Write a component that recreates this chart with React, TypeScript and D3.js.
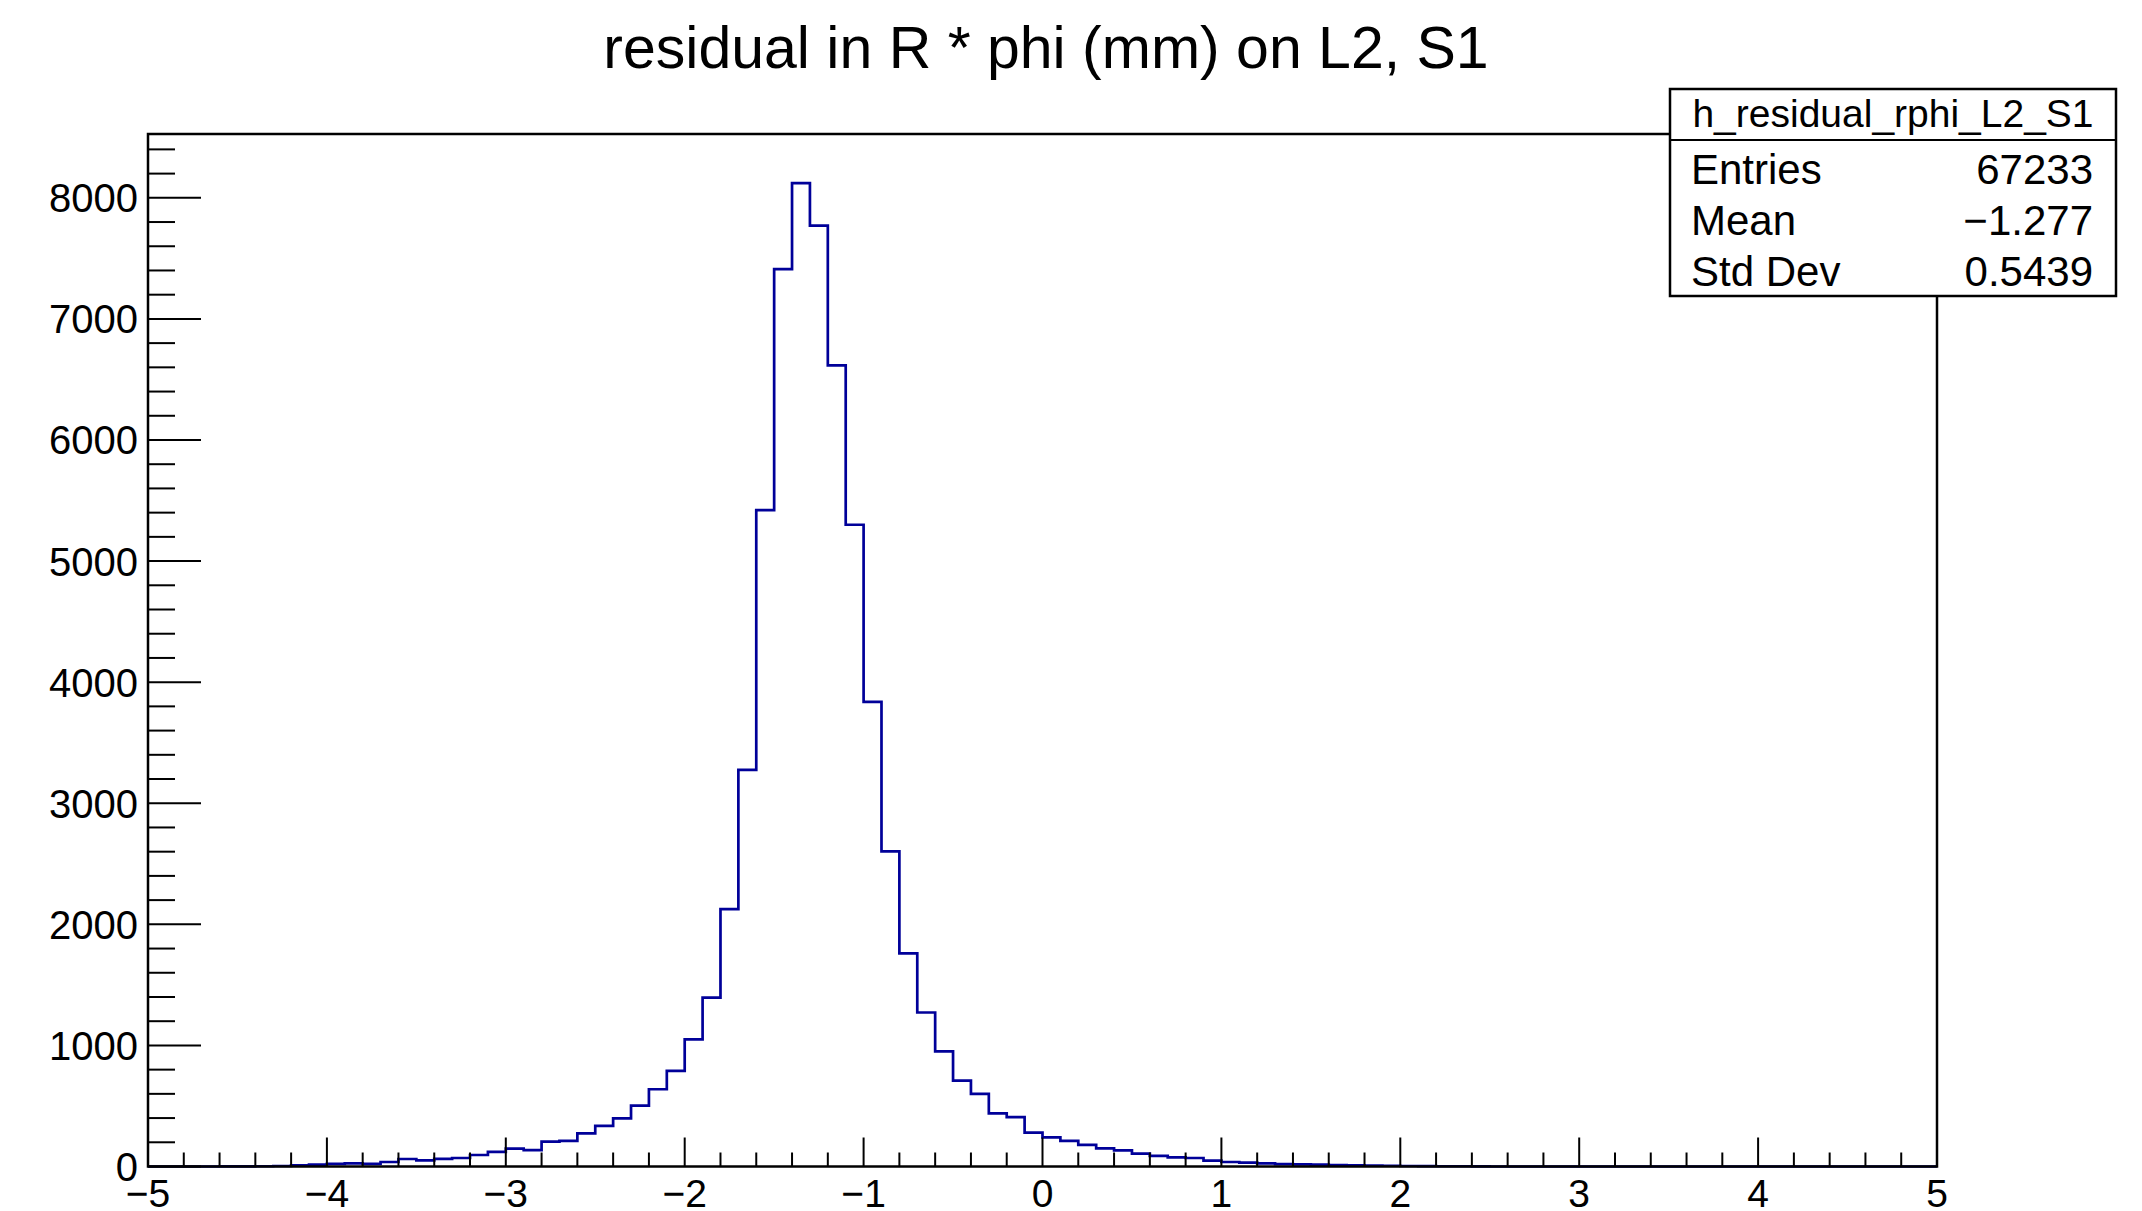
import React, { useEffect } from "react";
import * as d3 from "d3";

// ---- data ----
const binLow = -5;
const binHigh = 5;
const binCount = 100;
const counts: number[] = [
  0, 0, 0, 0, 1, 1, 2, 4, 10, 15,
  22, 25, 22, 37, 62, 50, 63, 70, 95, 120,
  147, 136, 205, 211, 274, 335, 398, 502, 638, 789,
  1050, 1395, 2126, 3275, 5421, 7411, 8121, 7771, 6617, 5300,
  3838, 2602, 1760, 1272, 950, 710, 600, 438, 408, 280,
  240, 212, 178, 150, 134, 106, 87, 76, 70, 48,
  37, 32, 26, 20, 18, 15, 12, 9, 8, 6,
  4, 3, 2, 2, 1, 0, 0, 0, 0, 0,
  0, 0, 0, 0, 0, 0, 0, 0, 0, 0,
  0, 0, 0, 0, 0, 0, 0, 0, 0, 0,
];
const xMajorTicks = [-5, -4, -3, -2, -1, 0, 1, 2, 3, 4, 5];
const yMajorTicks = [0, 1000, 2000, 3000, 4000, 5000, 6000, 7000, 8000];
const titleText = "residual in R * phi (mm) on L2, S1";
const statsTitle = "h_residual_rphi_L2_S1";
const statsLabels = ["Entries", "Mean", "Std Dev"];
const statsValues = ["67233", "\u22121.277", "0.5439"];

const W = 2142;
const H = 1211;
const FONT = "'Liberation Sans', Arial, Helvetica, sans-serif";

function fmt(v: number): string {
  return v < 0 ? "\u2212" + String(-v) : String(v);
}

export default function App() {
  useEffect(() => {
    document.body.style.margin = "0";
  }, []);

  const left = 148, right = 1937, top = 134, bottom = 1166.5;
  const yMax = d3.max(counts)! * 1.05;
  const x = d3.scaleLinear().domain([binLow, binHigh]).range([left, right]);
  const y = d3.scaleLinear().domain([0, yMax]).range([bottom, top]);
  const bw = (binHigh - binLow) / binCount;

  const pts: [number, number][] = [];
  counts.forEach((c, i) => {
    const e0 = binLow + i * bw;
    const e1 = binLow + (i + 1) * bw;
    pts.push([x(e0), y(c)]);
    pts.push([x(e1), y(c)]);
  });
  const histPath = d3.line()(pts) || "";

  const xMinor: number[] = d3.range(binLow, binHigh + 1e-9, 0.2).filter(
    (v) => Math.abs(v - Math.round(v)) > 1e-6
  );
  const yMinor: number[] = d3.range(0, yMax, 200).filter((v) => v % 1000 !== 0);

  const boxL = 1670, boxR = 2116, boxT = 89, boxB = 296, boxDiv = 140;

  return (
    <svg
      width={W}
      height={H}
      style={{ position: "absolute", left: 0, top: 0, background: "#fff" }}
      fontFamily={FONT}
    >
      <rect x={0} y={0} width={W} height={H} fill="#fff" />
      <text x={1046} y={68} fontSize={59} textAnchor="middle" fill="#000">
        {titleText}
      </text>

      {/* histogram */}
      <path d={histPath} fill="none" stroke="#000099" strokeWidth={2.7} />

      {/* frame */}
      <rect x={left} y={top} width={right - left} height={bottom - top} fill="none" stroke="#000" strokeWidth={2.5} />

      {/* y ticks */}
      {yMajorTicks.map((v) => (
        <g key={"ym" + v}>
          <line x1={left} x2={left + 53} y1={y(v)} y2={y(v)} stroke="#000" strokeWidth={2} />
          <text x={138} y={y(v) + 14.5} fontSize={40} textAnchor="end" fill="#000">
            {fmt(v)}
          </text>
        </g>
      ))}
      {yMinor.map((v) => (
        <line key={"yn" + v} x1={left} x2={left + 27} y1={y(v)} y2={y(v)} stroke="#000" strokeWidth={2} />
      ))}

      {/* x ticks */}
      {xMajorTicks.map((v) => (
        <g key={"xm" + v}>
          <line x1={x(v)} x2={x(v)} y1={bottom} y2={bottom - 29} stroke="#000" strokeWidth={2} />
          <text x={x(v)} y={1207} fontSize={39} textAnchor="middle" fill="#000">
            {fmt(v)}
          </text>
        </g>
      ))}
      {xMinor.map((v) => (
        <line key={"xn" + v.toFixed(2)} x1={x(v)} x2={x(v)} y1={bottom} y2={bottom - 14} stroke="#000" strokeWidth={2} />
      ))}

      {/* stats box */}
      <rect x={boxL} y={boxT} width={boxR - boxL} height={boxB - boxT} fill="#fff" stroke="#000" strokeWidth={2.5} />
      <line x1={boxL} x2={boxR} y1={boxDiv} y2={boxDiv} stroke="#000" strokeWidth={2} />
      <text x={(boxL + boxR) / 2} y={127} fontSize={39} textAnchor="middle" fill="#000">
        {statsTitle}
      </text>
      {statsLabels.map((lab, i) => (
        <g key={lab}>
          <text x={1691} y={184 + i * 51} fontSize={42} fill="#000">
            {lab}
          </text>
          <text x={2093} y={184 + i * 51} fontSize={42} textAnchor="end" fill="#000">
            {statsValues[i]}
          </text>
        </g>
      ))}
    </svg>
  );
}
